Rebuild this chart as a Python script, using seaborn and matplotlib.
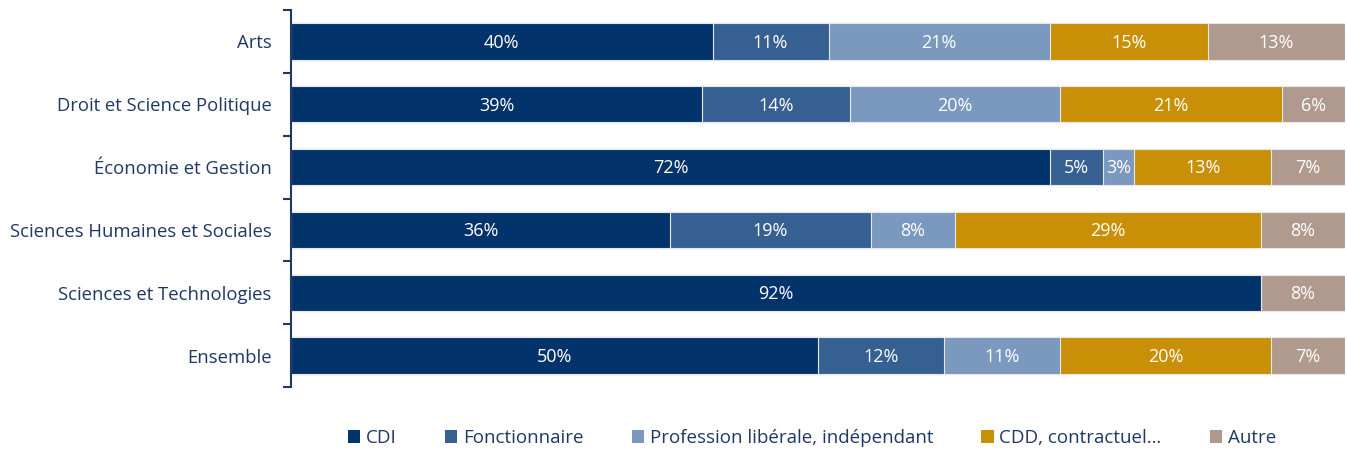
import numpy as np
import pandas as pd
import matplotlib.pyplot as plt
import seaborn as sns
from matplotlib.patches import Patch

# Data
categories = ["Arts", "Droit et Science Politique", "Économie et Gestion",
              "Sciences Humaines et Sociales", "Sciences et Technologies", "Ensemble"]
series = ["CDI", "Fonctionnaire", "Profession libérale, indépendant", "CDD, contractuel…", "Autre"]
cdi = [40, 39, 72, 36, 92, 50]
fonctionnaire = [11, 14, 5, 19, 0, 12]
liberal = [21, 20, 3, 8, 0, 11]
cdd = [15, 21, 13, 29, 0, 20]
autre = [13, 6, 7, 8, 8, 7]

colors = ["#03336b", "#376092", "#7b98bf", "#c99007", "#b09a8d"]
navy = "#1f3864"

df = pd.DataFrame({"cat": categories, "CDI": cdi, "Fonctionnaire": fonctionnaire,
                   "Profession libérale, indépendant": liberal,
                   "CDD, contractuel…": cdd, "Autre": autre})
cum = df[series].cumsum(axis=1)

sns.set_style("white")
plt.rcParams["font.family"] = ["Open Sans", "DejaVu Sans"]

fig = plt.figure(figsize=(13.47, 4.5), dpi=100)
ax = fig.add_axes([291 / 1347, 1 - 387 / 450, 1054 / 1347, 377 / 450])

# stacked bars: draw cumulative totals from the last series backwards
for name, col in reversed(list(zip(series, colors))):
    sns.barplot(x=cum[name], y=df["cat"], orient="h", color=col, width=0.58,
                saturation=1, edgecolor="#e8e8e8", linewidth=0.8, ax=ax)

# value labels
for i, row in df.iterrows():
    left = 0
    for name in series:
        v = row[name]
        if v > 0:
            ax.text(left + v / 2, i + 0.02, f"{v}%", ha="center", va="center",
                    color="white", fontsize=13)
        left += v

ax.set_xlim(0, 100)
ax.set_ylim(5.5, -0.5)
ax.set_xlabel("")
ax.set_ylabel("")
ax.set_xticks([])
for s in ["top", "right", "bottom"]:
    ax.spines[s].set_visible(False)
ax.spines["left"].set_color(navy)
ax.spines["left"].set_linewidth(1.5)

ax.tick_params(axis="y", which="major", left=False, length=0, pad=14,
               labelsize=13.3, labelcolor=navy)
ax.set_yticks(np.arange(-0.5, 6, 1), minor=True)
ax.tick_params(axis="y", which="minor", left=True, length=6, width=1.5,
               color=navy, direction="out")

handles = [Patch(facecolor=c, edgecolor="none") for c in colors]
fig.legend(handles, series, loc="center", bbox_to_anchor=(812 / 1347, 1 - 438 / 450),
           ncol=5, frameon=False, fontsize=13.5, handlelength=0.65, handleheight=0.65,
           handletextpad=0.3, columnspacing=2.58, labelcolor=navy)

fig.savefig("out.png", dpi=100)
